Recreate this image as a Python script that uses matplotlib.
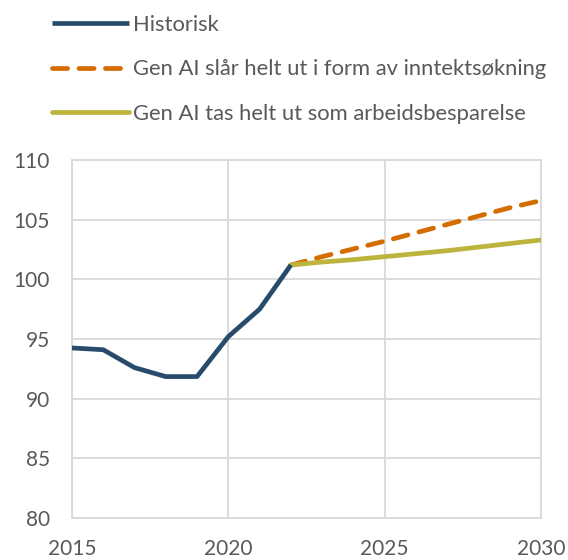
import matplotlib
matplotlib.use("Agg")
import matplotlib.pyplot as plt

hist_years = [2015, 2016, 2017, 2018, 2019, 2020, 2021, 2022]
hist_vals = [94.25, 94.1, 92.6, 91.85, 91.85, 95.2, 97.5, 101.2]

proj_years = [2022, 2023, 2024, 2025, 2026, 2027, 2028, 2029, 2030]
income_vals = [101.2, 101.9, 102.55, 103.2, 103.9, 104.6, 105.3, 106.0, 106.6]
labour_vals = [101.2, 101.45, 101.65, 101.9, 102.15, 102.4, 102.7, 103.0, 103.3]

labels = ["Historisk",
          "Gen AI slår helt ut i form av inntektsøkning",
          "Gen AI tas helt ut som arbeidsbesparelse"]

xticks = [2015, 2020, 2025, 2030]
yticks = [80, 85, 90, 95, 100, 105, 110]

plt.rcParams['font.family'] = ['Lato', 'DejaVu Sans']
text_color = "#595959"
grid_color = "#d9d9d9"

fig = plt.figure(figsize=(5.68, 5.60), dpi=100)
ax = fig.add_axes([72/568, 42/560, (541-72)/568, (518-160)/560])

lw = 3.4
l3, = ax.plot(proj_years, labour_vals, color="#bcb43c", lw=lw, solid_capstyle="round", zorder=3)
l2, = ax.plot(proj_years, income_vals, color="#d46c00", lw=lw, dashes=(3.2, 2.4),
              dash_capstyle="round", zorder=2)
l1, = ax.plot(hist_years, hist_vals, color="#284b6b", lw=lw, solid_capstyle="butt", zorder=4)

ax.set_xlim(2015, 2030)
ax.set_ylim(80, 110)
ax.set_xticks(xticks)
ax.set_yticks(yticks)
ax.grid(True, color=grid_color, lw=1.3)
ax.set_axisbelow(True)
for s in ax.spines.values():
    s.set_color(grid_color)
    s.set_linewidth(1.3)
ax.tick_params(length=0, labelsize=15, labelcolor=text_color)
ax.tick_params(axis='y', pad=16)
ax.tick_params(axis='x', pad=15)

fig.legend([l1, l2, l3], labels, loc="upper left", bbox_to_anchor=(34/568, 1.005),
           frameon=False, fontsize=15.8, labelcolor=text_color,
           handlelength=3.55, handletextpad=0.14, labelspacing=1.12, borderaxespad=0.4)

fig.savefig("out.png", dpi=100)
